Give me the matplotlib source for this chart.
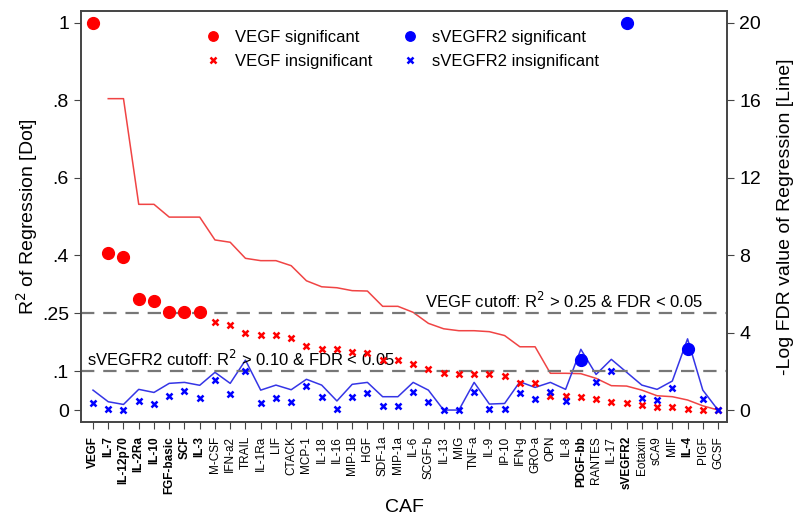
import numpy as np
import matplotlib
matplotlib.use("Agg")
import matplotlib.pyplot as plt

plt.rcParams['font.family'] = ['Liberation Sans', 'DejaVu Sans']

# 细胞因子 (CAF) 名称
cafs = ['VEGF', 'IL-7', 'IL-12p70', 'IL-2Ra', 'IL-10', 'FGF-basic', 'SCF', 'IL-3',
        'M-CSF', 'IFN-a2', 'TRAIL', 'IL-1Ra', 'LIF', 'CTACK', 'MCP-1', 'IL-18',
        'IL-16', 'MIP-1B', 'HGF', 'SDF-1a', 'MIP-1a', 'IL-6', 'SCGF-b', 'IL-13',
        'MIG', 'TNF-a', 'IL-9', 'IP-10', 'IFN-g', 'GRO-a', 'OPN', 'IL-8',
        'PDGF-bb', 'RANTES', 'IL-17', 'sVEGFR2', 'Eotaxin', 'sCA9', 'MIF', 'IL-4',
        'PIGF', 'GCSF']
bold_cafs = ['VEGF', 'IL-7', 'IL-12p70', 'IL-2Ra', 'IL-10', 'FGF-basic', 'SCF',
             'IL-3', 'PDGF-bb', 'sVEGFR2', 'IL-4']

# R^2 (dots)
vegf_r2 = [1.0, 0.407, 0.396, 0.286, 0.282, 0.254, 0.254, 0.254,
           0.227, 0.220, 0.200, 0.193, 0.193, 0.187, 0.166, 0.158,
           0.157, 0.150, 0.148, 0.129, 0.129, 0.120, 0.106, 0.097,
           0.093, 0.092, 0.092, 0.087, 0.069, 0.069, 0.036, 0.036,
           0.034, 0.028, 0.020, 0.019, 0.012, 0.007, 0.007, 0.003,
           0.001, 0.0]
vegf_sig = [True] * 8 + [False] * 34

svegfr2_r2 = [0.019, 0.003, 0.0, 0.023, 0.015, 0.037, 0.050, 0.030,
              0.078, 0.041, 0.102, 0.017, 0.030, 0.020, 0.063, 0.033,
              0.004, 0.033, 0.044, 0.010, 0.010, 0.047, 0.020, 0.0,
              0.0, 0.046, 0.002, 0.003, 0.045, 0.028, 0.046, 0.023,
              0.129, 0.072, 0.102, 1.0, 0.030, 0.026, 0.058, 0.159,
              0.028, 0.0]
svegfr2_sig_names = ['PDGF-bb', 'sVEGFR2', 'IL-4']

# -log FDR (lines), NaN = 自身回归, 无值
vegf_fdr = [np.nan, 16.09, 16.09, 10.63, 10.63, 9.97, 9.97, 9.97,
            8.79, 8.67, 7.84, 7.72, 7.72, 7.46, 6.68, 6.37,
            6.32, 6.17, 6.15, 5.36, 5.36, 5.05, 4.48, 4.20,
            4.10, 4.10, 4.05, 3.85, 3.27, 3.27, 1.90, 1.90,
            1.88, 1.64, 1.26, 1.24, 1.03, 0.74, 0.69, 0.52,
            0.22, 0.0]
svegfr2_fdr = [1.03, 0.43, 0.29, 1.07, 0.91, 1.38, 1.43, 1.28,
               1.95, 1.38, 2.58, 1.03, 1.29, 1.05, 1.59, 1.29,
               0.47, 1.33, 1.43, 0.69, 0.69, 1.43, 1.03, 0.0,
               0.0, 1.43, 0.31, 0.34, 1.46, 1.17, 1.43, 1.07,
               3.14, 1.84, 2.62, np.nan, 1.29, 1.07, 1.50, 3.68,
               1.03, 0.0]

x = np.arange(len(cafs))
vegf_r2 = np.array(vegf_r2)
svegfr2_r2 = np.array(svegfr2_r2)
vegf_fdr = np.array(vegf_fdr)
svegfr2_fdr = np.array(svegfr2_fdr)
vegf_sig = np.array(vegf_sig)
svegfr2_sig = np.array([c in svegfr2_sig_names for c in cafs])

fig = plt.figure(figsize=(8, 5.23), dpi=100)
ax = fig.add_axes([0.101, 0.193, 0.808, 0.786])
ax2 = ax.twinx()

# 线 (右轴), 缺失值处直接连接
m = ~np.isnan(vegf_fdr)
ax2.plot(x[m], vegf_fdr[m], color='#f04444', lw=1.1, zorder=2)
m = ~np.isnan(svegfr2_fdr)
ax2.plot(x[m], svegfr2_fdr[m], color='#3535e6', lw=1.1, zorder=2)

# 截断线
ax.axhline(0.25, color='#777777', lw=1.6, ls=(0, (6, 4)), zorder=1)
ax.axhline(0.10, color='#777777', lw=1.6, ls=(0, (6, 4)), zorder=1)
ax.text(40.0, 0.255, 'VEGF cutoff: R$^2$ > 0.25 & FDR < 0.05',
        ha='right', va='bottom', fontsize=12)
ax.text(-0.4, 0.105, 'sVEGFR2 cutoff: R$^2$ > 0.10 & FDR < 0.05',
        ha='left', va='bottom', fontsize=12)

# 点 (左轴)
ax.plot(x[vegf_sig], vegf_r2[vegf_sig], 'o', color='#ff0000', ms=8.5,
        mec='#ff0000', label='VEGF significant', zorder=4)
ax.plot(x[~vegf_sig], vegf_r2[~vegf_sig], 'x', color='#ff0000', ms=5,
        mew=1.8, label='VEGF insignificant', zorder=4)
ax.plot(x[svegfr2_sig], svegfr2_r2[svegfr2_sig], 'o', color='#0000ff', ms=8.5,
        label='sVEGFR2 significant', zorder=5)
ax.plot(x[~svegfr2_sig], svegfr2_r2[~svegfr2_sig], 'x', color='#0000ff', ms=5,
        mew=1.8, label='sVEGFR2 insignificant', zorder=5)

ax.set_zorder(ax2.get_zorder() + 1)
ax.patch.set_visible(False)

ax.set_xlim(-0.8, 41.6)
ax.set_ylim(-0.031, 1.031)
ax2.set_ylim(-0.62, 20.62)

ax.set_yticks([0, 0.1, 0.25, 0.4, 0.6, 0.8, 1])
ax.set_yticklabels(['0', '.1', '.25', '.4', '.6', '.8', '1'], fontsize=14)
ax2.set_yticks([0, 4, 8, 12, 16, 20])
ax2.set_yticklabels(['0', '4', '8', '12', '16', '20'], fontsize=14)

ax.set_xticks(x)
ax.set_xticklabels(cafs, rotation=90, fontsize=8.5)
for lab in ax.get_xticklabels():
    if lab.get_text() in bold_cafs:
        lab.set_fontweight('bold')

ax.set_ylabel('R$^2$ of Regression [Dot]', fontsize=14, labelpad=1)
ax2.set_ylabel('-Log FDR value of Regression [Line]', fontsize=14, labelpad=12)
ax.set_xlabel('CAF', fontsize=14, labelpad=4)

for a in (ax, ax2):
    for s in a.spines.values():
        s.set_color('#444444')
        s.set_linewidth(1.2)
    a.tick_params(direction='out', length=5, color='#444444')
ax.tick_params(axis='x', pad=5)

leg = ax.legend(loc='upper center', bbox_to_anchor=(0.49, 0.99), ncol=2,
                frameon=False, fontsize=12, handletextpad=0.3,
                columnspacing=1.3, labelspacing=0.55, markerscale=0.8)

fig.savefig('out.png', dpi=100)
